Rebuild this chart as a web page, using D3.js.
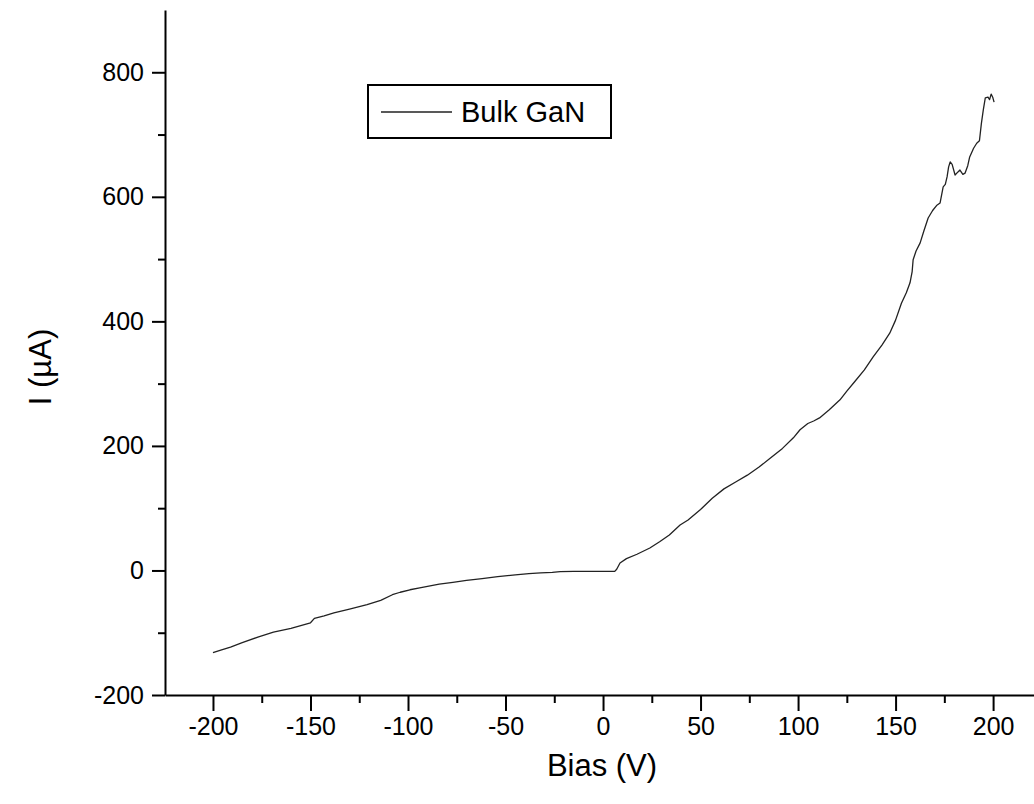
<!DOCTYPE html>
<html>
<head>
<meta charset="utf-8">
<script src="https://cdn.jsdelivr.net/npm/d3@7"></script>
<style>
  html, body { margin: 0; padding: 0; background: #fff; }
  svg text { font-family: "Liberation Sans", Arial, sans-serif; fill: #000; }
</style>
</head>
<body>
<svg id="chart" width="1034" height="804"></svg>
<script>
// I–V sweep of bulk GaN: bias (V) vs current (µA)
const bias = [
  -200, -196, -191, -185, -177, -169, -160, -150, -148, -143, -138, -130,
  -121, -114, -108, -104, -99, -94, -84, -77, -70, -62, -54, -45, -38, -32,
  -26, -22, -15, -8, 0, 4, 6, 7, 8.7, 12, 17.4, 24, 29, 34, 39.5, 43.6,
  50, 56, 62, 68, 74, 80, 86, 92, 97.6, 101, 105, 108, 111, 116, 121.5,
  125, 129, 134, 138.5, 143, 147, 150, 153, 155.5, 157.4, 158.5, 159,
  160.5, 162.6, 164.5, 166.7, 169, 171, 172.8, 174.4, 175.5, 176.4, 177.2,
  178, 179, 180.5, 182, 183, 184.5, 185.6, 187, 188, 190, 191.6, 193, 194,
  195, 196, 197.4, 198.2, 199, 199.8, 200.5
];
const current = [
  -132, -128, -123, -116, -107, -99, -93, -84, -77, -73, -68, -62,
  -55, -48, -39, -35, -31, -28, -22, -19, -16, -13, -10, -7, -5, -4,
  -3, -2, -1.5, -1.5, -1.5, -1.5, -1.5, 2, 12, 19, 26, 36, 46, 57, 73, 81,
  98, 116, 131, 142, 153, 166, 181, 196, 213, 226, 236, 240, 245, 258, 274,
  288, 303, 322, 343, 362, 381, 402, 429, 446, 462, 480, 499,
  513, 526, 545, 566, 578, 586, 590, 616, 620, 632, 648,
  656, 652, 635, 640, 643, 636, 638, 650, 664, 678, 686, 690, 718,
  740, 759, 760, 756, 765, 760, 752
];

// axis ticks
const xMajor = [-200, -150, -100, -50, 0, 50, 100, 150, 200];
const xMinor = [-175, -125, -75, -25, 25, 75, 125, 175];
const yMajor = [-200, 0, 200, 400, 600, 800];
const yMinor = [-100, 100, 300, 500, 700];

const legendLabel = "Bulk GaN";
const xTitle = "Bias (V)";
const yTitle = "I (\u00B5A)";

const svg = d3.select("#chart");

const x = d3.scaleLinear().domain([-224.6, 222]).range([165, 1036]);
const y = d3.scaleLinear().domain([-200, 900]).range([695, 10]);

const fontTick = 25;
const fmt = d => (d < 0 ? "-" + Math.abs(d) : String(d));

// x axis: major ticks with labels, minor ticks without
const gx = svg.append("g").attr("transform", `translate(0,${y(-200)})`);
gx.append("g").attr("class", "major")
  .call(d3.axisBottom(x).tickValues(xMajor).tickSize(16).tickSizeOuter(0)
    .tickPadding(6).tickFormat(fmt));
gx.append("g").attr("class", "minor")
  .call(d3.axisBottom(x).tickValues(xMinor).tickSize(8).tickSizeOuter(0).tickFormat(() => ""))
  .select(".domain").remove();

// y axis
const gy = svg.append("g").attr("transform", `translate(${x(-224.6)},0)`);
gy.append("g").attr("class", "major")
  .call(d3.axisLeft(y).tickValues(yMajor).tickSize(13).tickSizeOuter(0)
    .tickPadding(8).tickFormat(fmt));
gy.append("g").attr("class", "minor")
  .call(d3.axisLeft(y).tickValues(yMinor).tickSize(7).tickSizeOuter(0).tickFormat(() => ""))
  .select(".domain").remove();

svg.selectAll(".domain, .tick line").attr("stroke", "#000").attr("stroke-width", 2);
svg.selectAll(".major .tick text")
  .style("font-size", fontTick + "px")
  .style("font-family", "'Liberation Sans', Arial, sans-serif")
  .attr("fill", "#000");

// titles
svg.append("text")
  .attr("x", 602).attr("y", 776)
  .attr("text-anchor", "middle")
  .style("font-size", "31px")
  .text(xTitle);
svg.append("text")
  .attr("transform", `translate(51,${367}) rotate(-90)`)
  .attr("text-anchor", "middle")
  .style("font-size", "31px")
  .text(yTitle);

// curve
const pts = bias.map((b, i) => [b, current[i]]);
svg.append("path")
  .datum(pts)
  .attr("fill", "none")
  .attr("stroke", "#222")
  .attr("stroke-width", 1.3)
  .attr("stroke-linejoin", "round")
  .attr("d", d3.line().x(d => x(d[0])).y(d => y(d[1])));

// legend
const lg = svg.append("g");
lg.append("rect")
  .attr("x", 368).attr("y", 85).attr("width", 243).attr("height", 53)
  .attr("fill", "#fff").attr("stroke", "#000").attr("stroke-width", 2);
lg.append("line")
  .attr("x1", 381).attr("x2", 452).attr("y1", 112).attr("y2", 112)
  .attr("stroke", "#222").attr("stroke-width", 1.3);
lg.append("text")
  .attr("x", 461).attr("y", 122)
  .style("font-size", "29px")
  .text(legendLabel);
</script>
</body>
</html>
